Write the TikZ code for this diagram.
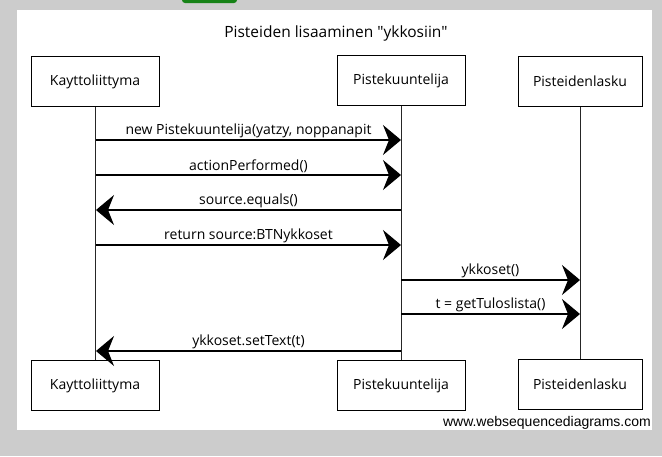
\documentclass[tikz,border=0pt]{standalone}
\usepackage{fontspec}
\setmainfont{Open Sans}
\newfontfamily\wsdfont{Liberation Sans}
\usetikzlibrary{arrows.meta}
\definecolor{pagegray}{RGB}{204,204,204}
\definecolor{btngreen}{RGB}{22,130,22}
\tikzset{
  actor/.style={draw, line width=1pt, minimum height=50pt, inner sep=0pt, font=\fontsize{14}{16}\selectfont},
  lifeline/.style={line width=0.9pt, black!85},
  msg/.style={line width=1.3pt, -{Stealth[length=18pt,width=30pt,inset=6pt]}},
  msglabel/.style={font=\fontsize{14}{16}\selectfont, inner sep=1.5pt, anchor=south}
}
\begin{document}
\begin{tikzpicture}[x=1pt,y=-1pt]
\useasboundingbox (0,0) rectangle (662,456);
\fill[pagegray] (0,0) rectangle (662,456);
\fill[btngreen, rounded corners=3pt] (182,-6) rectangle (237,3);
\fill[white] (17,9.5) rectangle (652,430);
\node[font=\fontsize{15.5}{18}\selectfont] (title) at (336,33) {Pisteiden lisaaminen \textquotedbl ykkosiin\textquotedbl};
% participants
\node[actor, minimum width=128pt] (kt) at (95,81.5) {Kayttoliittyma};
\node[actor, minimum width=128pt] (pk) at (401,80.5) {Pistekuuntelija};
\node[actor, minimum width=124pt] (pl) at (580,81) {Pisteidenlasku};
\node[actor, minimum width=128pt] (ktb) at (95,385.5) {Kayttoliittyma};
\node[actor, minimum width=128pt] (pkb) at (401,385.5) {Pistekuuntelija};
\node[actor, minimum width=124pt] (plb) at (580,384.5) {Pisteidenlasku};
\draw[lifeline] (kt) -- (ktb);
\draw[lifeline] (pk) -- (pkb);
\draw[lifeline] (pl) -- (plb);
% messages
\coordinate (k1) at (96,140); \coordinate (p1) at (401,140);
\coordinate (k2) at (96,175); \coordinate (p2) at (401,175);
\coordinate (k3) at (96,210); \coordinate (p3) at (401,210);
\coordinate (k4) at (96,245); \coordinate (p4) at (401,245);
\coordinate (p5) at (401,280); \coordinate (l5) at (580,280);
\coordinate (p6) at (401,314); \coordinate (l6) at (580,314);
\coordinate (k7) at (96,351); \coordinate (p7) at (401,351);
\draw[msg] (k1) -- node[msglabel] {new Pistekuuntelija(yatzy, noppanapit} (p1);
\draw[msg] (k2) -- node[msglabel] {actionPerformed()} (p2);
\draw[msg] (p3) -- node[msglabel] {source.equals()} (k3);
\draw[msg] (k4) -- node[msglabel] {return source:BTNykkoset} (p4);
\draw[msg] (p5) -- node[msglabel] {ykkoset()} (l5);
\draw[msg] (p6) -- node[msglabel] {t = getTuloslista()} (l6);
\draw[msg] (p7) -- node[msglabel] {ykkoset.setText(t)} (k7);
\node[anchor=east, inner sep=0pt, font=\wsdfont\fontsize{14}{16}\selectfont] (wsd) at (651,423) {www.websequencediagrams.com};
\end{tikzpicture}
\end{document}
